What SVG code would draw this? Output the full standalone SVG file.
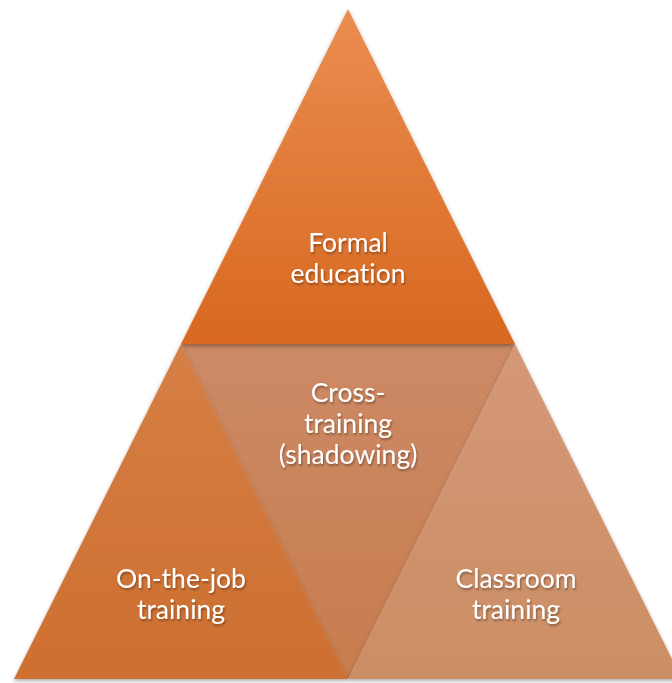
<svg xmlns="http://www.w3.org/2000/svg" width="672" height="683" viewBox="0 0 672 683">
<defs>
<linearGradient id="gTop" x1="0" y1="0" x2="0" y2="1">
<stop offset="0" stop-color="#EA8D50"/>
<stop offset="1" stop-color="#D86820"/>
</linearGradient>
<linearGradient id="gLeft" x1="0" y1="0" x2="0" y2="1">
<stop offset="0" stop-color="#D67F45"/>
<stop offset="1" stop-color="#CD6F30"/>
</linearGradient>
<linearGradient id="gMid" x1="0" y1="0" x2="0" y2="1">
<stop offset="0" stop-color="#CC8A66"/>
<stop offset="1" stop-color="#C87C4E"/>
</linearGradient>
<linearGradient id="gRight" x1="0" y1="0" x2="0" y2="1">
<stop offset="0" stop-color="#D49674"/>
<stop offset="1" stop-color="#CB8A5F"/>
</linearGradient>
<filter id="sh" x="-10%" y="-10%" width="120%" height="120%">
<feGaussianBlur in="SourceAlpha" stdDeviation="2"/>
<feOffset dx="0" dy="2" result="b"/>
<feComponentTransfer><feFuncA type="linear" slope="0.35"/></feComponentTransfer>
<feMerge><feMergeNode/><feMergeNode in="SourceGraphic"/></feMerge>
</filter>
<filter id="tsh" x="-10%" y="-10%" width="120%" height="130%">
<feGaussianBlur in="SourceAlpha" stdDeviation="1.2"/>
<feOffset dx="0.5" dy="1.5" result="b"/>
<feComponentTransfer><feFuncA type="linear" slope="0.35"/></feComponentTransfer>
<feMerge><feMergeNode/><feMergeNode in="SourceGraphic"/></feMerge>
</filter>
</defs>
<style>
text { font-family: Lato, "Open Sans", "Liberation Sans", sans-serif; font-size: 26.5px; fill: #FFFFFF; text-anchor: middle; font-variant-ligatures: none; }
.lbl { filter: url(#tsh); }
</style>
<rect width="672" height="683" fill="#FFFFFF"/>
<g id="connectors"></g>
<g id="mid" filter="url(#sh)">
<polygon points="181,344 515,344 348,679" fill="url(#gMid)"/>
<g class="lbl"><text x="348" y="402">Cross-</text><text x="348" y="433">training</text><text x="348" y="464">(shadowing)</text></g>
</g>
<g id="top" filter="url(#sh)">
<polygon points="348,9 515,344 181,344" fill="url(#gTop)"/>
<g class="lbl"><text x="348" y="252">Formal</text><text x="348" y="283">education</text></g>
</g>
<g id="left" filter="url(#sh)">
<polygon points="181,344 348,679 14,679" fill="url(#gLeft)"/>
<g class="lbl"><text x="181" y="588">On-the-job</text><text x="181" y="619">training</text></g>
</g>
<g id="right" filter="url(#sh)">
<polygon points="515,344 682,679 348,679" fill="url(#gRight)" fill-opacity="0.95"/>
<g class="lbl"><text x="516" y="588">Classroom</text><text x="516" y="619">training</text></g>
</g>
</svg>
